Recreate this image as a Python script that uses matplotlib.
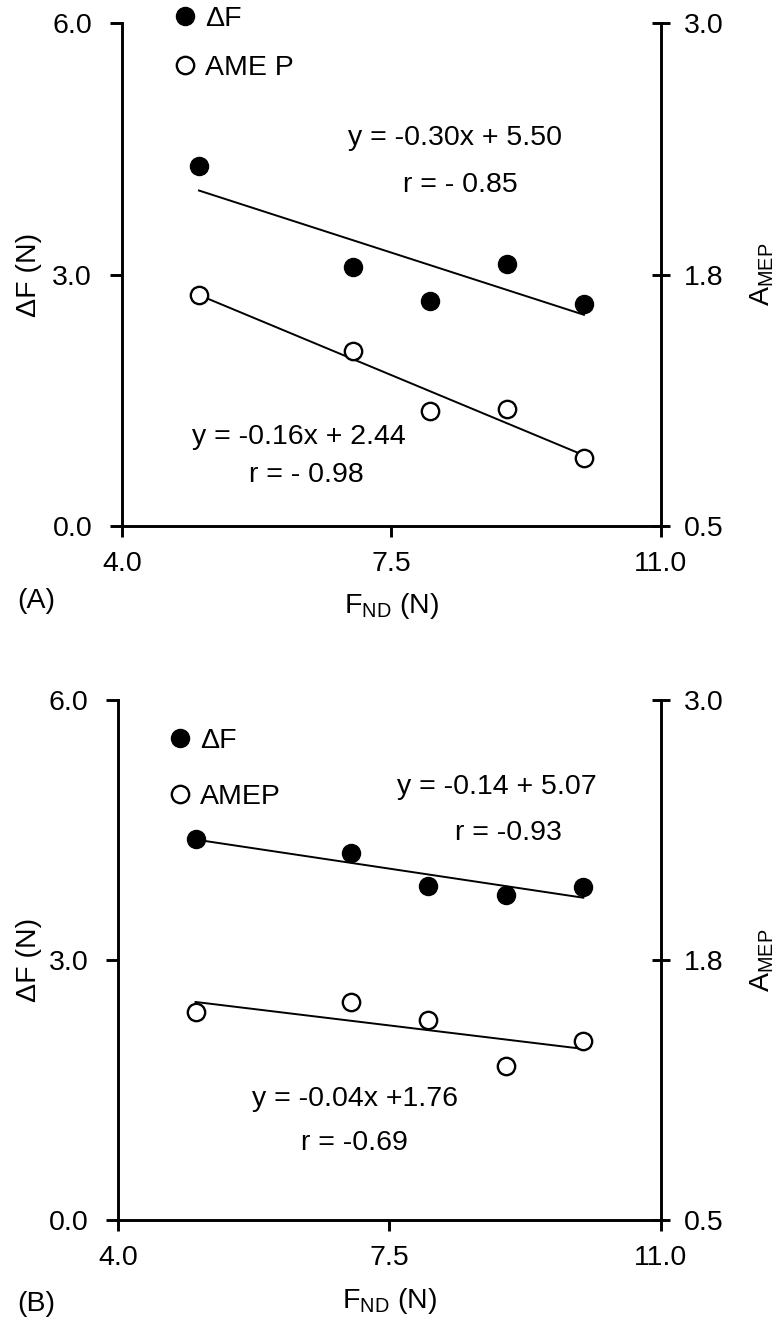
import numpy as np
import matplotlib
matplotlib.use('Agg')
import matplotlib.pyplot as plt

plt.rcParams['font.family'] = ['Liberation Sans', 'DejaVu Sans']
plt.rcParams['mathtext.fontset'] = 'custom'
plt.rcParams['mathtext.rm'] = 'Liberation Sans'
plt.rcParams['mathtext.it'] = 'Liberation Sans'

# data
f_nd = [5, 7, 8, 9, 10]

dF_a = [4.30, 3.09, 2.69, 3.13, 2.65]
amep_a = [1.65, 1.37, 1.07, 1.08, 0.84]
dF_b = [4.40, 4.23, 3.85, 3.75, 3.84]
amep_b = [1.50, 1.55, 1.46, 1.24, 1.36]

x_ticks = [4.0, 7.5, 11.0]
dF_ticks = [0.0, 3.0, 6.0]
amep_ticks = [0.5, 1.75, 3.0]
amep_ticklabels = ['0.5', '1.8', '3.0']

eq_a = ['y = -0.30x + 5.50', 'r = - 0.85', 'y = -0.16x + 2.44', 'r = - 0.98']
eq_b = ['y = -0.14 + 5.07', 'r = -0.93', 'y = -0.04x +1.76', 'r = -0.69']
legend_a = ['\u0394F', 'AME P']
legend_b = ['\u0394F', 'AMEP']

FS = 20.5
LW = 2.1
W = 780.0
H = 1325.0

fig = plt.figure(figsize=(7.8, 13.25), dpi=100)


def panel(rect, dF, amep, eqs, eq_pos, labels, leg_anchor, leg_space, tag,
          xlab_px, tag_px):
    ax = fig.add_axes(rect)
    ax2 = ax.twinx()
    ax.set_xlim(4, 11)
    ax.set_ylim(0, 6)
    ax2.set_ylim(0.5, 3.0)

    x = np.array(f_nd, dtype=float)
    xs = np.array([x.min(), x.max()])

    # filled: delta F
    p1 = np.polyfit(x, dF, 1)
    ax.plot(xs, np.polyval(p1, xs), color='black', lw=1.4, zorder=2)
    h1, = ax.plot(x, dF, 'o', ms=13, color='black', mec='black', zorder=3,
                  label=labels[0])

    # open: AMEP on right axis
    p2 = np.polyfit(x, amep, 1)
    ax2.plot(xs, np.polyval(p2, xs), color='black', lw=1.4, zorder=2)
    h2, = ax2.plot(x, amep, 'o', ms=12.5, mfc='white', mec='black', mew=1.7,
                   zorder=3, label=labels[1])

    for s in ['top', 'right']:
        ax.spines[s].set_visible(False)
    for s in ['top', 'left', 'bottom']:
        ax2.spines[s].set_visible(False)
    ax.spines['left'].set_linewidth(LW)
    ax.spines['bottom'].set_linewidth(LW)
    ax2.spines['right'].set_linewidth(LW)

    ax.set_xticks(x_ticks)
    ax.set_xticklabels(['%.1f' % v for v in x_ticks])
    ax.set_yticks(dF_ticks)
    ax.set_yticklabels(['%.1f' % v for v in dF_ticks])
    ax2.set_yticks(amep_ticks)
    ax2.set_yticklabels(amep_ticklabels)

    ax.tick_params(axis='x', direction='out', length=8, width=LW,
                   labelsize=FS, pad=10)
    ax.tick_params(axis='y', direction='out', length=8.5, width=LW,
                   labelsize=FS, pad=13)
    ax2.tick_params(axis='y', direction='inout', length=13, width=LW,
                    labelsize=FS, pad=10)

    wpx = rect[2] * W
    hpx = rect[3] * H
    left_px = rect[0] * W
    ax.set_ylabel('\u0394F (N)', fontsize=FS)
    ax.yaxis.set_label_coords((42 - left_px) / wpx, 0.5)
    ax2.set_ylabel(r'A$_{\mathregular{MEP}}$', fontsize=FS, rotation=90)
    ax2.yaxis.set_label_coords((748 - left_px) / wpx, 0.5)
    ax.set_xlabel(r'F$_{\mathregular{ND}}$ (N)', fontsize=FS, va='center')
    ax.xaxis.set_label_coords(0.5, -xlab_px / hpx)

    for txt, (tx, ty) in zip(eqs, eq_pos):
        ax.text(tx, ty, txt, fontsize=FS, ha='center', va='center')

    ax2.legend(handles=[h1, h2], loc='upper left',
               bbox_to_anchor=leg_anchor, frameon=False, fontsize=FS,
               handlelength=0.6, handletextpad=0.4, borderpad=0,
               borderaxespad=0, labelspacing=leg_space, numpoints=1)

    fig.text(0.022, rect[1] - tag_px / H, tag, fontsize=FS,
             ha='left', va='center')
    return ax


panel([0.1564, 0.603, 0.691, 0.3796], dF_a, amep_a, eq_a,
      [(8.32, 4.63), (8.39, 4.07), (6.30, 1.06), (6.39, 0.61)],
      legend_a, (0.101, 1.033), 0.79, '(A)', 80, 75)
panel([0.1513, 0.0792, 0.696, 0.3925], dF_b, amep_b, eq_b,
      [(8.88, 5.00), (9.03, 4.47), (7.05, 1.40), (7.05, 0.89)],
      legend_b, (0.099, 0.946), 1.04, '(B)', 81, 84)

fig.savefig('out.png', dpi=100)
